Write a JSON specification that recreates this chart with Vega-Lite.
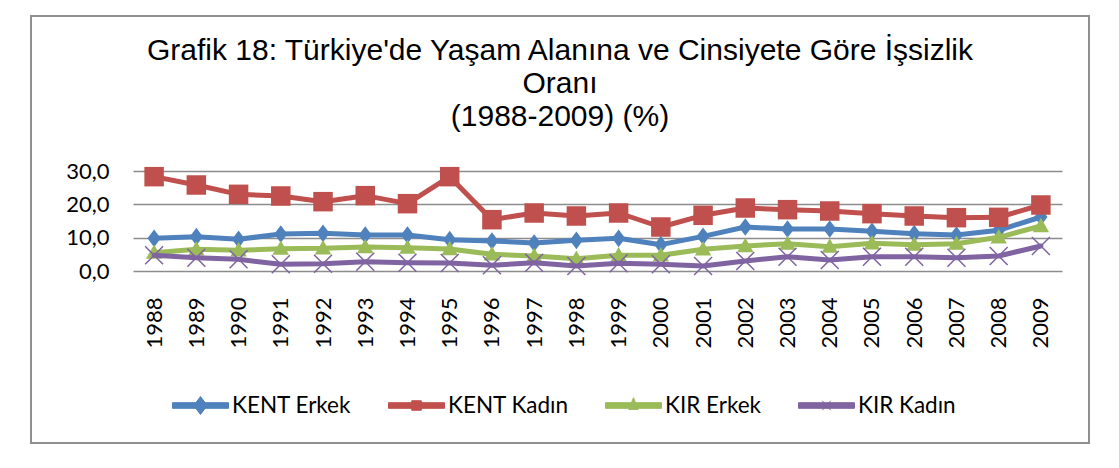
{
  "$schema": "https://vega.github.io/schema/vega-lite/v6.json",
  "width": 1058,
  "height": 427,
  "autosize": {"type": "none"},
  "padding": {"left": 31, "top": 16, "right": 30, "bottom": 25},
  "background": "white",
  "title": {
    "text": ["Grafik 18: Türkiye'de Yaşam Alanına ve Cinsiyete Göre İşsizlik", "Oranı", "(1988-2009) (%)"],
    "anchor": "middle",
    "frame": "group",
    "orient": "top",
    "offset": -116,
    "font": "Liberation Sans",
    "fontSize": 30,
    "fontWeight": "normal",
    "lineHeight": 33,
    "color": "black"
  },
  "config": {
    "view": {"stroke": "#909090", "strokeWidth": 2},
    "axis": {"labelFont": "Lato", "labelColor": "black"},
    "legend": {"labelFont": "Lato"}
  },
  "data": {
    "values": [
      {"year": "1988", "series": "KENT Erkek", "value": 9.8},
      {"year": "1989", "series": "KENT Erkek", "value": 10.3},
      {"year": "1990", "series": "KENT Erkek", "value": 9.5},
      {"year": "1991", "series": "KENT Erkek", "value": 11.1},
      {"year": "1992", "series": "KENT Erkek", "value": 11.3},
      {"year": "1993", "series": "KENT Erkek", "value": 10.8},
      {"year": "1994", "series": "KENT Erkek", "value": 10.8},
      {"year": "1995", "series": "KENT Erkek", "value": 9.4},
      {"year": "1996", "series": "KENT Erkek", "value": 9.0},
      {"year": "1997", "series": "KENT Erkek", "value": 8.4},
      {"year": "1998", "series": "KENT Erkek", "value": 9.2},
      {"year": "1999", "series": "KENT Erkek", "value": 9.8},
      {"year": "2000", "series": "KENT Erkek", "value": 7.9},
      {"year": "2001", "series": "KENT Erkek", "value": 10.4},
      {"year": "2002", "series": "KENT Erkek", "value": 13.2},
      {"year": "2003", "series": "KENT Erkek", "value": 12.6},
      {"year": "2004", "series": "KENT Erkek", "value": 12.6},
      {"year": "2005", "series": "KENT Erkek", "value": 11.9},
      {"year": "2006", "series": "KENT Erkek", "value": 11.2},
      {"year": "2007", "series": "KENT Erkek", "value": 10.8},
      {"year": "2008", "series": "KENT Erkek", "value": 12.2},
      {"year": "2009", "series": "KENT Erkek", "value": 16.2},
      {"year": "1988", "series": "KENT Kadın", "value": 28.3},
      {"year": "1989", "series": "KENT Kadın", "value": 25.8},
      {"year": "1990", "series": "KENT Kadın", "value": 23.0},
      {"year": "1991", "series": "KENT Kadın", "value": 22.5},
      {"year": "1992", "series": "KENT Kadın", "value": 20.8},
      {"year": "1993", "series": "KENT Kadın", "value": 22.6},
      {"year": "1994", "series": "KENT Kadın", "value": 20.2},
      {"year": "1995", "series": "KENT Kadın", "value": 28.3},
      {"year": "1996", "series": "KENT Kadın", "value": 15.4},
      {"year": "1997", "series": "KENT Kadın", "value": 17.4},
      {"year": "1998", "series": "KENT Kadın", "value": 16.5},
      {"year": "1999", "series": "KENT Kadın", "value": 17.4},
      {"year": "2000", "series": "KENT Kadın", "value": 13.2},
      {"year": "2001", "series": "KENT Kadın", "value": 16.7},
      {"year": "2002", "series": "KENT Kadın", "value": 18.9},
      {"year": "2003", "series": "KENT Kadın", "value": 18.4},
      {"year": "2004", "series": "KENT Kadın", "value": 18.0},
      {"year": "2005", "series": "KENT Kadın", "value": 17.2},
      {"year": "2006", "series": "KENT Kadın", "value": 16.5},
      {"year": "2007", "series": "KENT Kadın", "value": 16.0},
      {"year": "2008", "series": "KENT Kadın", "value": 16.1},
      {"year": "2009", "series": "KENT Kadın", "value": 19.8},
      {"year": "1988", "series": "KIR Erkek", "value": 5.5},
      {"year": "1989", "series": "KIR Erkek", "value": 6.5},
      {"year": "1990", "series": "KIR Erkek", "value": 6.2},
      {"year": "1991", "series": "KIR Erkek", "value": 6.7},
      {"year": "1992", "series": "KIR Erkek", "value": 6.8},
      {"year": "1993", "series": "KIR Erkek", "value": 7.2},
      {"year": "1994", "series": "KIR Erkek", "value": 7.0},
      {"year": "1995", "series": "KIR Erkek", "value": 6.6},
      {"year": "1996", "series": "KIR Erkek", "value": 5.0},
      {"year": "1997", "series": "KIR Erkek", "value": 4.5},
      {"year": "1998", "series": "KIR Erkek", "value": 3.7},
      {"year": "1999", "series": "KIR Erkek", "value": 4.7},
      {"year": "2000", "series": "KIR Erkek", "value": 4.7},
      {"year": "2001", "series": "KIR Erkek", "value": 6.5},
      {"year": "2002", "series": "KIR Erkek", "value": 7.5},
      {"year": "2003", "series": "KIR Erkek", "value": 8.2},
      {"year": "2004", "series": "KIR Erkek", "value": 7.3},
      {"year": "2005", "series": "KIR Erkek", "value": 8.3},
      {"year": "2006", "series": "KIR Erkek", "value": 7.9},
      {"year": "2007", "series": "KIR Erkek", "value": 8.2},
      {"year": "2008", "series": "KIR Erkek", "value": 10.1},
      {"year": "2009", "series": "KIR Erkek", "value": 13.5},
      {"year": "1988", "series": "KIR Kadın", "value": 4.7},
      {"year": "1989", "series": "KIR Kadın", "value": 4.0},
      {"year": "1990", "series": "KIR Kadın", "value": 3.5},
      {"year": "1991", "series": "KIR Kadın", "value": 2.0},
      {"year": "1992", "series": "KIR Kadın", "value": 2.2},
      {"year": "1993", "series": "KIR Kadın", "value": 2.8},
      {"year": "1994", "series": "KIR Kadın", "value": 2.5},
      {"year": "1995", "series": "KIR Kadın", "value": 2.4},
      {"year": "1996", "series": "KIR Kadın", "value": 1.7},
      {"year": "1997", "series": "KIR Kadın", "value": 2.5},
      {"year": "1998", "series": "KIR Kadın", "value": 1.5},
      {"year": "1999", "series": "KIR Kadın", "value": 2.3},
      {"year": "2000", "series": "KIR Kadın", "value": 2.0},
      {"year": "2001", "series": "KIR Kadın", "value": 1.5},
      {"year": "2002", "series": "KIR Kadın", "value": 3.0},
      {"year": "2003", "series": "KIR Kadın", "value": 4.3},
      {"year": "2004", "series": "KIR Kadın", "value": 3.3},
      {"year": "2005", "series": "KIR Kadın", "value": 4.3},
      {"year": "2006", "series": "KIR Kadın", "value": 4.3},
      {"year": "2007", "series": "KIR Kadın", "value": 4.0},
      {"year": "2008", "series": "KIR Kadın", "value": 4.5},
      {"year": "2009", "series": "KIR Kadın", "value": 7.5}
    ]
  },
  "encoding": {
    "x": {
      "field": "year",
      "type": "ordinal",
      "scale": {"type": "point", "range": [102, 1031], "padding": 0.5},
      "axis": {
        "title": null,
        "offset": -172,
        "domain": false,
        "ticks": false,
        "tickSize": 0,
        "grid": false,
        "labelAngle": -90,
        "labelAlign": "right",
        "labelBaseline": "middle",
        "labelPadding": 26,
        "labelFontSize": 22
      }
    },
    "y": {
      "field": "value",
      "type": "quantitative",
      "scale": {"domain": [0, 30], "range": [255, 155], "nice": false, "zero": true},
      "axis": {
        "title": null,
        "offset": -102,
        "values": [0, 10, 20, 30],
        "domain": false,
        "ticks": false,
        "tickSize": 0,
        "grid": true,
        "gridColor": "#8c8c8c",
        "gridWidth": 1.6,
        "labelPadding": 24,
        "labelFontSize": 22,
        "labelExpr": "replace(format(datum.value, '.1f'), '.', ',')"
      }
    },
    "color": {
      "field": "series",
      "type": "nominal",
      "scale": {
        "domain": ["KENT Erkek", "KENT Kadın", "KIR Erkek", "KIR Kadın"],
        "range": ["#4F81BD", "#C0504D", "#9BBB59", "#8064A2"]
      },
      "legend": {
        "title": null,
        "orient": "none",
        "direction": "horizontal",
        "legendX": 141,
        "legendY": 361,
        "padding": 0,
        "symbolSize": 3136,
        "labelFontSize": 22.5,
        "labelColor": "black",
        "labelOffset": 3,
        "columnPadding": 34,
        "encode": {
          "symbols": {
            "update": {
              "shape": {"signal": "datum.value === 'KENT Erkek' ? 'M-1,-0.1H1V0.1H-1Z M0,-0.32L0.24,0L0,0.32L-0.24,0Z' : datum.value === 'KENT Kadın' ? 'M-1,-0.1H1V0.1H-1Z M-0.17,-0.17H0.17V0.17H-0.17Z' : datum.value === 'KIR Erkek' ? 'M-1,-0.1H1V0.1H-1Z M0,-0.28L0.17,0.14L-0.17,0.14Z' : 'M-1,-0.1H1V0.1H-1Z M-0.15,-0.17L0.15,0.17 M-0.15,0.17L0.15,-0.17'"},
              "fill": {"scale": "color", "field": "value"},
              "stroke": {"scale": "color", "field": "value"},
              "strokeWidth": {"value": 1},
              "opacity": {"value": 1}
            }
          }
        }
      }
    }
  },
  "layer": [
    {"transform": [{"filter": "datum.series === 'KENT Erkek'"}], "mark": {"type": "line", "strokeWidth": 5, "strokeJoin": "round", "strokeCap": "round"}},
    {"transform": [{"filter": "datum.series === 'KENT Erkek'"}], "mark": {"type": "point", "filled": true, "opacity": 1, "shape": "M0,-1L0.75,0L0,1L-0.75,0Z", "size": 310}},
    {"transform": [{"filter": "datum.series === 'KENT Kadın'"}], "mark": {"type": "line", "strokeWidth": 5, "strokeJoin": "round", "strokeCap": "round"}},
    {"transform": [{"filter": "datum.series === 'KENT Kadın'"}], "mark": {"type": "point", "filled": true, "opacity": 1, "shape": "square", "size": 380}},
    {"transform": [{"filter": "datum.series === 'KIR Erkek'"}], "mark": {"type": "line", "strokeWidth": 5, "strokeJoin": "round", "strokeCap": "round"}},
    {"transform": [{"filter": "datum.series === 'KIR Erkek'"}], "mark": {"type": "point", "filled": true, "opacity": 1, "shape": "M0,-1L1,0.75L-1,0.75Z", "size": 270}},
    {"transform": [{"filter": "datum.series === 'KIR Kadın'"}], "mark": {"type": "line", "strokeWidth": 5, "strokeJoin": "round", "strokeCap": "round"}},
    {"transform": [{"filter": "datum.series === 'KIR Kadın'"}], "mark": {"type": "point", "filled": false, "opacity": 1, "strokeWidth": 1.5, "shape": "M-1,-1L1,1M-1,1L1,-1", "size": 324}}
  ]
}
